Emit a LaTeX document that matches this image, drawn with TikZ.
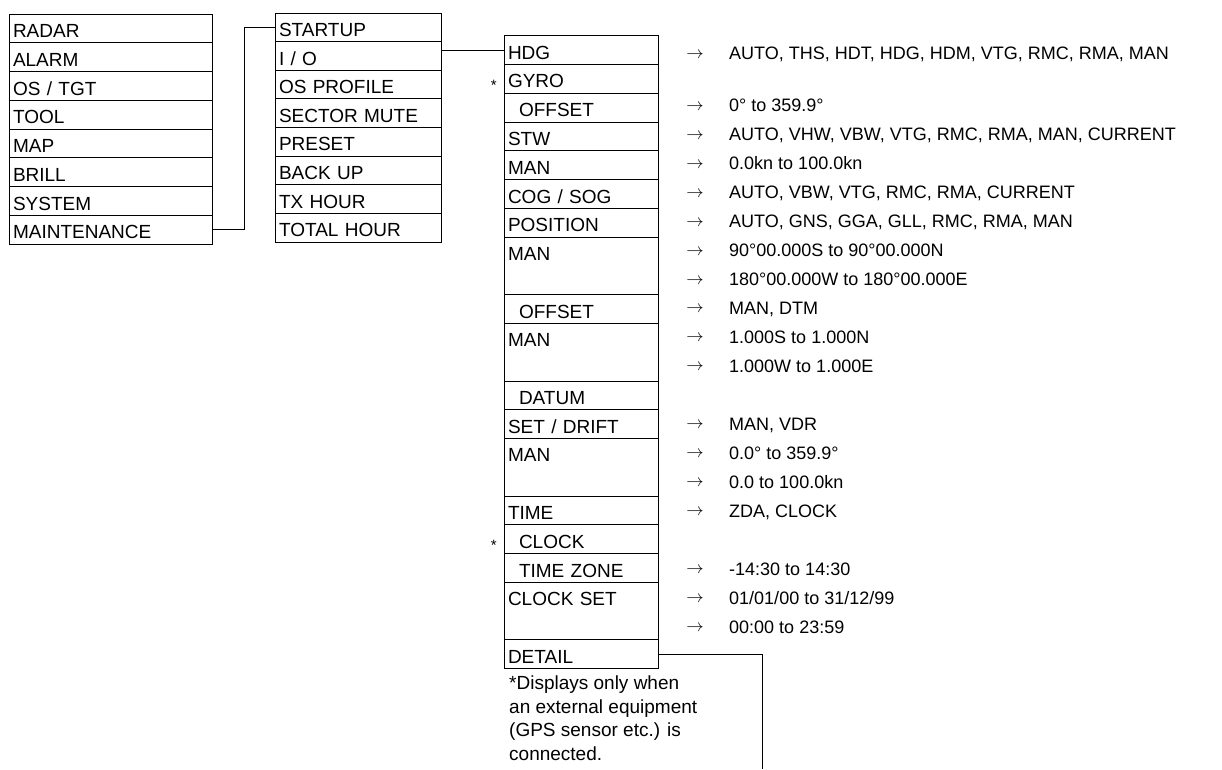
\documentclass[tikz,border=0pt]{standalone}
\usepackage{fontspec}
\setmainfont{Liberation Sans}
\newcommand{\ind}{\hspace*{11pt}}
\newcommand{\optat}[3]{% name, baseline y, text
  \node[arr] (a#1) at (695,{#2-1.4}) {$\rightarrow$};
  \node[opt] (t#1) at (729,{#2}) {#3};}
\newcommand{\optline}[3]{\optat{#1}{111.6+(#2-2)*28.97}{#3}}
\begin{document}
\begin{tikzpicture}[x=1pt,y=-1pt,
  box/.style={draw, line width=0.8pt, outer sep=0pt, anchor=north west,
    inner xsep=4pt, inner ysep=0pt, text height=23.5pt, align=left,
    font=\fontsize{19}{22}\selectfont},
  boxa/.style={box, text width=195pt, text depth=5.25pt},
  boxb/.style={box, text width=158pt, text depth=5.12pt},
  boxc/.style={box, text width=146pt, text depth=5.27pt},
  boxcd/.style={box, text width=146pt, text depth=34.04pt},
  arr/.style={anchor=base, inner sep=0pt, font=\fontsize{16}{16}\selectfont},
  opt/.style={anchor=base west, inner sep=0pt, font=\fontsize{18}{20}\selectfont},
  fn/.style={anchor=base west, inner sep=0pt, font=\fontsize{19}{22}\selectfont},
  star/.style={anchor=base east, inner sep=0pt, font=\fontsize{15}{15}\selectfont},
  conn/.style={line width=0.8pt}]
\useasboundingbox (0,0) rectangle (1222,769);
% column 1
\node[boxa] (radar) at (9,14) {RADAR};
\node[boxa] (alarm) at (radar.south west) {ALARM};
\node[boxa] (ostgt) at (alarm.south west) {OS / TGT};
\node[boxa] (tool) at (ostgt.south west) {TOOL};
\node[boxa] (map) at (tool.south west) {MAP};
\node[boxa] (brill) at (map.south west) {BRILL};
\node[boxa] (system) at (brill.south west) {SYSTEM};
\node[boxa] (maint) at (system.south west) {MAINTENANCE};
% column 2
\node[boxb] (startup) at (275,13) {STARTUP};
\node[boxb] (io) at (startup.south west) {I / O};
\node[boxb] (osprof) at (io.south west) {OS PROFILE};
\node[boxb] (sector) at (osprof.south west) {SECTOR MUTE};
\node[boxb] (preset) at (sector.south west) {PRESET};
\node[boxb] (backup) at (preset.south west) {BACK UP};
\node[boxb] (txhour) at (backup.south west) {TX HOUR};
\node[boxb] (total) at (txhour.south west) {TOTAL HOUR};
% column 3
\node[boxc] (hdg) at (504,35.7) {HDG};
\node[boxc] (gyro) at (hdg.south west) {GYRO};
\node[boxc] (off1) at (gyro.south west) {\ind OFFSET};
\node[boxc] (stw) at (off1.south west) {STW};
\node[boxc] (man1) at (stw.south west) {MAN};
\node[boxc] (cog) at (man1.south west) {COG / SOG};
\node[boxc] (pos) at (cog.south west) {POSITION};
\node[boxcd] (man2) at (pos.south west) {MAN};
\node[boxc] (off2) at (man2.south west) {\ind OFFSET};
\node[boxcd] (man3) at (off2.south west) {MAN};
\node[boxc] (datum) at (man3.south west) {\ind DATUM};
\node[boxc] (setdrift) at (datum.south west) {SET / DRIFT};
\node[boxcd] (man4) at (setdrift.south west) {MAN};
\node[boxc] (time) at (man4.south west) {TIME};
\node[boxc] (clock) at (time.south west) {\ind CLOCK};
\node[boxc] (tz) at (clock.south west) {\ind TIME ZONE};
\node[boxcd] (clockset) at (tz.south west) {CLOCK SET};
\node[boxc] (detail) at (clockset.south west) {DETAIL};
% asterisks
\node[star] (stgyro) at (497,90.5) {*};
\node[star] (stclock) at (497,550.8) {*};
% options
\optat{0}{59.4}{AUTO, THS, HDT, HDG, HDM, VTG, RMC, RMA, MAN}
\optline{2}{2}{0° to 359.9°}
\optline{3}{3}{AUTO, VHW, VBW, VTG, RMC, RMA, MAN, CURRENT}
\optline{4}{4}{0.0kn to 100.0kn}
\optline{5}{5}{AUTO, VBW, VTG, RMC, RMA, CURRENT}
\optline{6}{6}{AUTO, GNS, GGA, GLL, RMC, RMA, MAN}
\optline{7}{7}{90°00.000S to 90°00.000N}
\optline{8}{8}{180°00.000W to 180°00.000E}
\optline{9}{9}{MAN, DTM}
\optline{10}{10}{1.000S to 1.000N}
\optline{11}{11}{1.000W to 1.000E}
\optline{13}{13}{MAN, VDR}
\optline{14}{14}{0.0° to 359.9°}
\optline{15}{15}{0.0 to 100.0kn}
\optline{16}{16}{ZDA, CLOCK}
\optline{18}{18}{-14:30 to 14:30}
\optline{19}{19}{01/01/00 to 31/12/99}
\optline{20}{20}{00:00 to 23:59}
% footnote
\node[fn] (fn1) at (509,689.3) {*Displays only when};
\node[fn] (fn2) at (509,713) {an external equipment};
\node[fn] (fn3) at (509,736.6) {(GPS sensor etc.) is};
\node[fn] (fn4) at (509,760.2) {connected.};
% connectors
\coordinate (dend) at (762,769);
\draw[conn] (maint.east) -- ++(32,0) |- (startup.west);
\draw[conn] (io.east |- hdg.west) -- (hdg.west);
\draw[conn] (detail.east) -| (dend);
\end{tikzpicture}
\end{document}
